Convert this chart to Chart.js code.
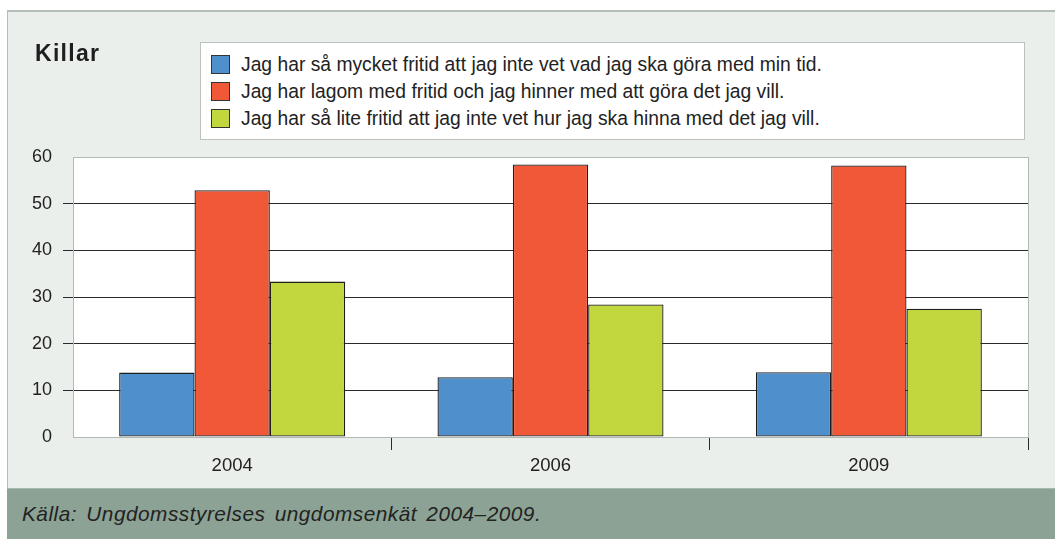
<!DOCTYPE html>
<html>
<head>
<meta charset="utf-8">
<script src="https://cdn.jsdelivr.net/npm/chart.js@4"></script>
<style>
  html, body { margin: 0; padding: 0; background: #fff; }
  #wrap { position: relative; width: 1055px; height: 539px; overflow: hidden; font-family: "Liberation Sans", Arial, sans-serif; color: #222; }
  #panel { position: absolute; left: 7px; top: 10px; right: 0; height: 478px; background: #ebefec; border-left: 1px solid #b3beb7; border-top: 2px solid #b3beb7; box-sizing: border-box; }
  #footer { position: absolute; left: 7px; top: 488px; right: 0; bottom: 0; background: #8ca295; border-top: 1px solid #a9b8ae; }
  #footer span { position: absolute; left: 15px; top: 13px; font-style: italic; font-size: 20.8px; letter-spacing: 0.5px; word-spacing: 3px; color: #222; }
  #title { position: absolute; left: 35px; top: 40px; font-family: "Liberation Sans", Arial, sans-serif; font-weight: bold; font-size: 23px; letter-spacing: 1.3px; color: #1e1e1e; }
  #legend { position: absolute; left: 200px; top: 42px; width: 825px; height: 98px; background: #fff; border: 1px solid #b9c2bc; box-sizing: border-box; padding-top: 8px; }
  .item { height: 27px; display: flex; align-items: center; padding-left: 10px; font-size: 19.3px; }
  .sw { width: 17px; height: 17px; border: 1px solid #333; margin-right: 11px; }
  canvas { position: absolute; left: 0; top: 0; }
</style>
</head>
<body>
<div id="wrap">
  <div id="panel"></div>
  <div id="footer"><span>Källa: Ungdomsstyrelses ungdomsenkät 2004–2009.</span></div>
  <canvas id="chart" width="1055" height="539"></canvas>
  <div id="title">Killar</div>
  <div id="legend"></div>
</div>
<script>
// Data
const years = ['2004', '2006', '2009'];
const seriesNames = [
    'Jag har så mycket fritid att jag inte vet vad jag ska göra med min tid.',
    'Jag har lagom med fritid och jag hinner med att göra det jag vill.',
    'Jag har så lite fritid att jag inte vet hur jag ska hinna med det jag vill.'
];
const tooMuch = [13.8, 12.8, 13.9];
const justRight = [52.9, 58.4, 58.2];
const tooLittle = [33.3, 28.4, 27.5];
const yMin = 0, yMax = 60, yStep = 10;

const colors = ['#4f8fcc', '#f05838', '#c2d73e'];
const gray = '#b0bab4';
const dark = '#2a2a2a';

// white plot area + right border
const plotBg = {
    id: 'plotBg',
    beforeDraw(chart) {
        const { ctx, chartArea: a } = chart;
        ctx.save();
        ctx.fillStyle = '#fff';
        ctx.fillRect(a.left, a.top, a.right - a.left, a.bottom - a.top);
        ctx.strokeStyle = gray;
        ctx.lineWidth = 1;
        ctx.beginPath();
        ctx.moveTo(Math.round(a.right) + 0.5, a.top);
        ctx.lineTo(Math.round(a.right) + 0.5, a.bottom);
        ctx.stroke();
        ctx.restore();
    }
};

const chart = new Chart(document.getElementById('chart'), {
    type: 'bar',
    data: {
        labels: years,
        datasets: [tooMuch, justRight, tooLittle].map((vals, i) => ({
            label: seriesNames[i],
            data: vals,
            backgroundColor: colors[i],
            borderColor: '#1e1e1e',
            borderWidth: 1.3,
            borderSkipped: false,
            categoryPercentage: 0.71,
            barPercentage: 1
        }))
    },
    options: {
        responsive: false,
        animation: false,
        events: [],
        layout: { padding: { top: 157, left: 0, right: 27, bottom: 62 } },
        plugins: { legend: { display: false }, tooltip: { enabled: false } },
        scales: {
            x: {
                afterFit: (s) => { s.height = 40; },
                border: { color: gray },
                grid: {
                    offset: true,
                    drawOnChartArea: false,
                    tickLength: 13,
                    tickColor: (c) => c.index === 0 ? 'rgba(0,0,0,0)' : dark
                },
                ticks: { color: '#222', padding: 5, font: { family: 'Liberation Sans', size: 18.5 } }
            },
            y: {
                min: yMin, max: yMax,
                afterFit: (s) => { s.width = 73; },
                border: { color: gray },
                grid: {
                    tickLength: 10,
                    color: (c) => (c.tick && (c.tick.value === yMin || c.tick.value === yMax)) ? gray : dark,
                    tickColor: (c) => (c.tick && (c.tick.value === yMin || c.tick.value === yMax)) ? 'rgba(0,0,0,0)' : dark
                },
                ticks: { stepSize: yStep, color: '#222', padding: 11, font: { family: 'Liberation Sans', size: 18 } }
            }
        }
    },
    plugins: [plotBg]
});

// legend built from the datasets
document.getElementById('legend').innerHTML = chart.data.datasets.map(d =>
    `<div class="item"><div class="sw" style="background:${d.backgroundColor}"></div><span>${d.label}</span></div>`
).join('');
</script>
</body>
</html>
